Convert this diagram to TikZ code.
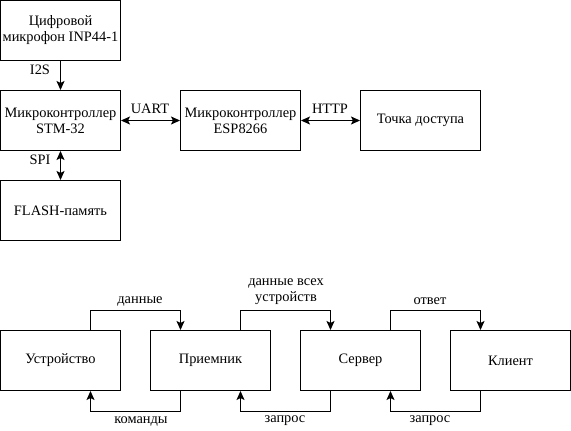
\documentclass[tikz,border=0pt]{standalone}
\usepackage{fontspec}
\setmainfont{Liberation Serif}
\newfontfamily\tnr{Liberation Serif}
\usetikzlibrary{arrows.meta}
\begin{document}
\begin{tikzpicture}[x=1pt,y=-1pt,
  blk/.style={draw,line width=1pt,minimum width=120pt,minimum height=60pt,inner sep=0pt,align=center,font=\tnr\fontsize{14.4}{16}\selectfont},
  lbl/.style={inner sep=0pt,align=center,font=\tnr\fontsize{14.4}{16}\selectfont},
  arr/.style={line width=1pt,-{Stealth[length=9pt,width=8pt,inset=2pt]}},
  darr/.style={line width=1pt,{Stealth[length=9pt,width=8pt,inset=2pt]}-{Stealth[length=9pt,width=8pt,inset=2pt]}}]
\useasboundingbox (0,0) rectangle (571,431);
% top
\node[blk] (mic) at (60.5,30.5) {Цифровой\\микрофон INP44-1};
\node[blk] (stm) at (60.5,120.5) {Микроконтроллер\\STM-32};
\node[blk] (fl) at (60.5,210.5) {FLASH-память};
\node[blk] (esp) at (240.5,120.5) {Микроконтроллер\\ESP8266};
\node[blk] (ap) at (420.5,120.5) {Точка доступа};
\draw[arr] (mic) -- (stm);
\draw[darr] (stm) -- (fl);
\draw[darr] (stm) -- (esp);
\draw[darr] (esp) -- (ap);
\node[lbl] (l1) at (40,70) {I2S};
\node[lbl] (l2) at (40,160) {SPI};
\node[lbl] (l3) at (150,109) {UART};
\node[lbl] (l4) at (330,109) {HTTP};
% bottom
\node[blk] (dev) at (60.5,360.5) {Устройство};
\node[blk] (rcv) at (210.5,360.5) {Приемник};
\node[blk] (srv) at (360.5,360.5) {Сервер};
\node[blk] (cli) at (510.5,360.5) {Клиент};
\draw[arr] ([xshift=30pt]dev.north) -- ++(0,-20) -| ([xshift=-30pt]rcv.north);
\draw[arr] ([xshift=-30pt]rcv.south) -- ++(0,20) -| ([xshift=30pt]dev.south);
\draw[arr] ([xshift=30pt]rcv.north) -- ++(0,-20) -| ([xshift=-30pt]srv.north);
\draw[arr] ([xshift=-30pt]srv.south) -- ++(0,20) -| ([xshift=30pt]rcv.south);
\draw[arr] ([xshift=30pt]srv.north) -- ++(0,-20) -| ([xshift=-30pt]cli.north);
\draw[arr] ([xshift=-30pt]cli.south) -- ++(0,20) -| ([xshift=30pt]srv.south);
\node[lbl] (b1) at (140,301) {данные};
\node[lbl] (b2) at (141,421) {команды};
\node[lbl] (b3) at (286,292) {данные всех\\устройств};
\node[lbl] (b4) at (285,421) {запрос};
\node[lbl] (b5) at (430,301) {ответ};
\node[lbl] (b6) at (430,421) {запрос};
\end{tikzpicture}
\end{document}
